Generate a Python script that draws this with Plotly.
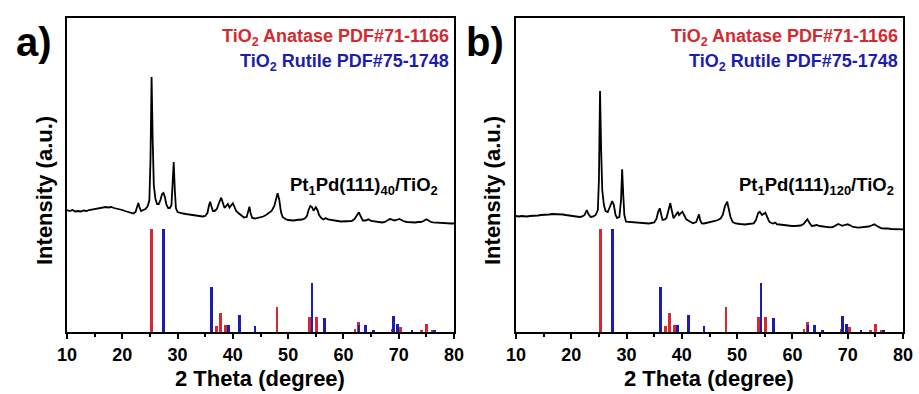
import plotly.graph_objects as go

# ---------------- data ----------------
theta_a = [10.0,10.5,11.0,11.5,12.0,12.5,13.0,13.5,14.0,14.5,15.0,15.5,16.0,16.5,17.0,17.5,18.0,18.5,19.0,19.5,
           20.0,20.5,21.0,21.5,22.0,22.4,22.7,22.9,23.1,23.4,23.8,24.2,24.6,24.9,25.1,25.3,25.5,25.7,26.0,26.3,
           26.6,26.9,27.2,27.45,27.7,28.0,28.3,28.6,28.9,29.1,29.3,29.5,29.7,30.0,30.5,31.0,31.5,32.0,32.5,33.0,
           33.5,34.0,34.5,35.0,35.4,35.7,35.9,36.1,36.4,36.7,37.1,37.5,37.9,38.2,38.5,38.8,39.1,39.4,39.7,40.0,
           40.3,40.6,41.0,41.5,42.0,42.5,42.8,43.0,43.2,43.5,44.0,44.5,45.0,45.5,46.0,46.5,47.0,47.5,47.9,48.1,
           48.4,48.7,49.0,49.5,50.0,50.5,51.0,51.5,52.0,52.5,53.0,53.4,53.7,54.0,54.3,54.6,55.0,55.3,55.6,56.0,
           56.4,56.8,57.2,57.6,58.0,58.5,59.0,59.5,60.0,60.5,61.0,61.5,62.0,62.4,62.8,63.1,63.5,64.0,64.5,65.0,
           65.5,66.0,66.5,67.0,67.5,68.0,68.4,68.8,69.2,69.6,70.1,70.5,71.0,71.5,72.0,72.5,73.0,73.5,74.0,74.5,
           75.0,75.4,75.8,76.2,76.7,77.0,77.5,78.0,78.5,79.0,79.5,80.0]
counts_a = [122,121,122,120.5,121,120.5,121.5,121,122,122.5,123,123.5,124,124.5,125,124.5,125,124,123.5,122.5,
            122,121,120,119,118.5,120,125,129,125,121,122,123,126,132,172,255,192,147,133,128,
            128,132,138,139,135,127,124,124,127,147,170,142,124,120,119,118.5,118,117.5,117,116.5,
            116,116,115.5,116,119,127,130.3,126,121,121,123,129,134.3,129,124,126,128,124.5,127,128.7,
            125,121,119,117,114.5,115,120,125.3,119,114,113.5,114,114.5,115.5,117,119,121,126,136,138.7,
            132,120,115,113,112,111.5,111.5,112,112,112.5,113.5,116,122,126,125,121.3,124.7,122,117,114,
            112.5,114,112.5,112,111.5,111,111,110.5,110.5,110.5,110.5,111,113,116,119.7,116,111.5,111.5,112.7,111,
            110.5,110,109.5,109.5,110,111.5,113,112.5,111.5,112,113,112,110.5,110,109.7,109.5,109.5,110,110,111,
            112.7,111.5,110,109.7,109.5,109,109,108.5,108.5,108.5,108.5,108.5]

theta_b = [10.0,10.5,11.0,11.5,12.0,12.5,13.0,13.5,14.0,14.5,15.0,15.5,16.0,16.5,17.0,17.5,18.0,18.5,19.0,19.5,
           20.0,20.5,21.0,21.5,22.0,22.4,22.8,23.1,23.5,24.0,24.4,24.8,25.0,25.2,25.4,25.6,25.9,26.2,26.6,26.9,
           27.2,27.4,27.7,28.0,28.3,28.7,29.0,29.2,29.4,29.6,29.9,30.5,31.0,31.5,32.0,32.5,33.0,33.5,34.0,34.5,
           35.0,35.4,35.7,36.0,36.2,36.5,36.9,37.2,37.5,37.9,38.2,38.5,38.9,39.3,39.5,39.8,40.1,40.4,40.8,41.3,
           42.0,42.6,42.9,43.1,43.3,43.6,44.0,44.5,45.0,45.5,46.0,46.5,47.0,47.4,47.8,48.2,48.5,48.8,49.2,49.7,
           50.5,51.0,51.5,52.0,52.5,53.0,53.4,53.8,54.1,54.5,55.1,55.4,55.8,56.2,56.5,56.9,57.2,57.7,58.2,58.7,
           59.3,59.9,60.5,61.0,61.5,62.0,62.4,62.7,63.1,63.5,64.0,64.4,64.9,65.5,66.0,66.8,67.3,67.8,68.3,68.7,
           69.0,69.5,70.0,70.5,71.0,71.9,72.5,73.2,73.8,74.3,74.8,75.3,75.8,76.1,76.7,77.2,77.8,78.6,79.2,80.0]
counts_b = [116,115.5,116,115.5,115.5,116,116,116.5,116.5,117,117,117.5,117.5,118,118,118,117.7,117.5,117,116.5,
            116,115.5,115,115,115.5,117,122,118,115,115.5,117,122,152,241,182,142,127,121,120,125,
            130,131,127,117,114,115,132,162.7,137,117,110.3,110,109.5,109.5,109,109,108.7,109,108.5,109,
            109.5,113,120,123.7,119,112,112.5,113.7,120,128.7,121,113.7,117,120.3,117,119,120.3,117,112.7,111,
            108.7,110,115,117.7,112,108.7,108.5,109,109.5,110,111,112,113.5,117,126,130.3,124,115,110,108.5,
            108,107.5,107.5,108,108,108.7,112,119,120.3,117,119.3,116,110.3,109,108.5,109.5,107.7,107.5,107,106.5,
            106.5,106,106,106,106.5,108,110.5,112.7,109,106,106.5,107,106,105.5,105,104.7,105,106.5,108,107,
            106.3,107,107.7,106.5,105,104.3,104.5,104.7,105.5,106.5,107.7,106,104,103.7,103.5,103.7,103,102.7,103,102.7]

# reference patterns (relative intensity, %)
anatase_pos = [25.3, 37.0, 37.8, 38.6, 48.0, 53.9, 55.1, 62.1, 62.7, 68.8, 70.3, 74.1, 75.0, 76.0]
anatase_int = [100, 6, 18, 7, 24, 15, 15, 3, 10, 3, 5, 1, 8, 2]
rutile_pos = [27.4, 36.1, 39.2, 41.2, 44.0, 54.3, 56.6, 62.8, 64.0, 65.5, 69.0, 69.8, 72.4, 76.5]
rutile_int = [100, 44, 7, 17, 6, 48, 14, 7, 7, 1, 16, 8, 1, 2]

x_ticks = [10, 20, 30, 40, 50, 60, 70, 80]
panel_labels = ["a)", "b)"]
sample_labels = ["Pt<sub>1</sub>Pd(111)<sub>40</sub>/TiO<sub>2</sub>",
                 "Pt<sub>1</sub>Pd(111)<sub>120</sub>/TiO<sub>2</sub>"]
anatase_label = "TiO<sub>2</sub> Anatase PDF#71-1166"
rutile_label = "TiO<sub>2</sub> Rutile PDF#75-1748"

# ---------------- styling ----------------
RED = "#d42a2f"
BLUE = "#1c1cb0"
FONT = "Arial, Liberation Sans, sans-serif"
W, H = 919, 394

fig = go.Figure()

panels = [
    dict(theta=theta_a, counts=counts_a, xa="x", ya="y", ys="y3", dom=[67/W, 454/W]),
    dict(theta=theta_b, counts=counts_b, xa="x2", ya="y2", ys="y4", dom=[516/W, 903/W]),
]
ydom = [(H - 332) / H, (H - 18) / H]

for p in panels:
    fig.add_trace(go.Bar(x=anatase_pos, y=anatase_int, width=0.5, marker=dict(color=RED, line_width=0),
                         xaxis=p["xa"], yaxis=p["ys"], showlegend=False))
    fig.add_trace(go.Bar(x=rutile_pos, y=rutile_int, width=0.5, marker=dict(color=BLUE, line_width=0),
                         xaxis=p["xa"], yaxis=p["ys"], showlegend=False))
    fig.add_trace(go.Scatter(x=p["theta"], y=p["counts"], mode="lines",
                             line=dict(color="black", width=1.8),
                             xaxis=p["xa"], yaxis=p["ya"], showlegend=False))

xcommon = dict(range=[10, 80], tickvals=x_ticks, ticks="outside", ticklen=5, tickwidth=2,
               tickcolor="black", showline=True, linecolor="black", linewidth=2, mirror=True,
               showgrid=False, zeroline=False, automargin=False,
               tickfont=dict(family=FONT, size=18, color="black", weight="bold"),
               minor=dict(dtick=5, ticks="outside", ticklen=3, tickwidth=2, tickcolor="black"))
ycommon = dict(range=[0, 314], showticklabels=False, ticks="", showline=True, linecolor="black",
               linewidth=2, mirror=True, showgrid=False, zeroline=False, automargin=False)
ystick = dict(range=[0, 305], showticklabels=False, ticks="", showline=False, showgrid=False,
              zeroline=False, automargin=False)

fig.update_layout(
    template="none",
    width=W, height=H, autosize=False, margin=dict(l=0, r=0, t=0, b=0, pad=0),
    paper_bgcolor="white", plot_bgcolor="white", barmode="overlay", bargap=0,
    xaxis=dict(domain=panels[0]["dom"], anchor="y", **xcommon),
    xaxis2=dict(domain=panels[1]["dom"], anchor="y2", **xcommon),
    yaxis=dict(domain=ydom, anchor="x", **ycommon),
    yaxis2=dict(domain=ydom, anchor="x2", **ycommon),
    yaxis3=dict(domain=ydom, anchor="x", overlaying="y", **ystick),
    yaxis4=dict(domain=ydom, anchor="x2", overlaying="y2", **ystick),
)

ann = []
def add(text, x, y, size, color="black", xanchor="center", yanchor="middle", angle=0):
    ann.append(dict(text=text, x=x / W, y=(H - y) / H, xref="paper", yref="paper",
                    showarrow=False, xanchor=xanchor, yanchor=yanchor, textangle=angle,
                    font=dict(family=FONT, size=size, color=color, weight="bold")))

offsets = [0, 449]
for i, off in enumerate(offsets):
    add(panel_labels[i], 34 + off + (2 if i else 0), 42, 40)
    add(anatase_label, 451 + off, 38, 18, RED, xanchor="right")
    add(rutile_label, 451 + off, 62, 18, BLUE, xanchor="right")
    add("Intensity (a.u.)", 45 + off - (1 if i else 0), 191, 22, angle=-90)
    add("2 Theta (degree)", 260 + off, 378, 22)
add(sample_labels[0], 440, 186, 18.5, xanchor="right")
add(sample_labels[1], 896, 186, 18.5, xanchor="right")
fig.update_layout(annotations=ann)

fig.write_html("out.html", config={"responsive": False, "displayModeBar": False},
               post_script="document.body.style.margin='0';document.body.style.overflow='hidden';")
